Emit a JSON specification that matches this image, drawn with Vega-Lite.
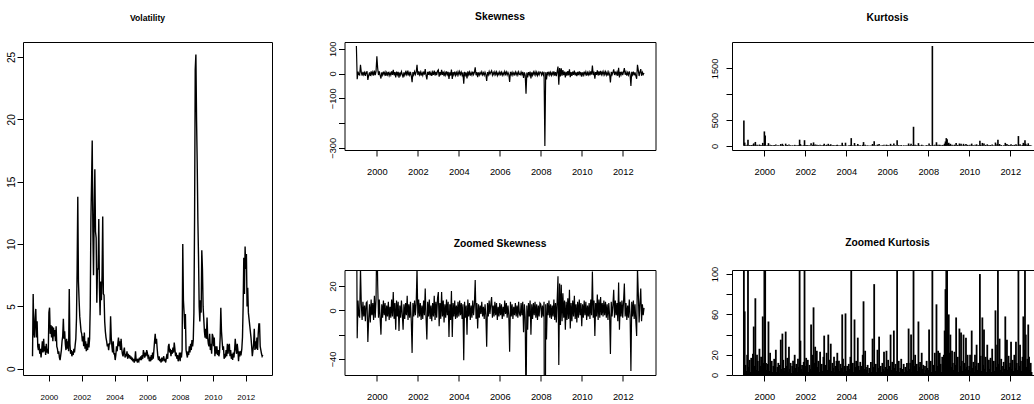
{
"$schema": "https://vega.github.io/schema/vega-lite/v6.json",
"background": "white",
"padding": {"left": 2, "top": 11, "right": 0, "bottom": 0},
"spacing": 40.5,
"config": {
 "view": {"stroke": "black", "strokeWidth": 1},
 "axis": {"grid": false, "domain": false, "tickColor": "black", "tickSize": 6, "labelColor": "black", "labelFont": "Liberation Sans", "labelFontSize": 9.3},
 "axisX": {"labelBaseline": "middle", "labelPadding": 15, "labelAngle": 0, "labelAlign": "center"},
 "axisY": {"labelAngle": 270, "labelAlign": "center", "labelBaseline": "middle", "labelPadding": 6, "minExtent": 30},
 "title": {"font": "Liberation Sans", "fontWeight": "bold", "fontSize": 10.3, "color": "black", "anchor": "middle", "offset": 19}
},
"datasets": {"d": [
{"t":1999,"v":1,"s":111,"k":490},{"t":1999.04,"v":6,"s":-23,"k":63},{"t":1999.08,"v":3,"s":8,"k":10},{"t":1999.12,"v":2.5,"s":-4,"k":4},{"t":1999.16,"v":4,"s":-6,"k":20},{"t":1999.2,"v":4.8,"s":35,"k":120},{"t":1999.24,"v":2.5,"s":5,"k":8},{"t":1999.28,"v":3.8,"s":-8,"k":15},{"t":1999.32,"v":1.8,"s":7,"k":3},{"t":1999.36,"v":1.5,"s":-5,"k":17},{"t":1999.4,"v":2,"s":4,"k":6},{"t":1999.44,"v":1.2,"s":-9,"k":21},{"t":1999.48,"v":1.6,"s":6,"k":48},{"t":1999.52,"v":0.9,"s":7,"k":9},{"t":1999.56,"v":1.5,"s":-26,"k":76},{"t":1999.6,"v":2.2,"s":-7,"k":5},{"t":1999.64,"v":1.3,"s":5,"k":20},{"t":1999.68,"v":2.4,"s":-10,"k":14},{"t":1999.72,"v":1.4,"s":9,"k":4},{"t":1999.76,"v":1.8,"s":-4,"k":26},{"t":1999.8,"v":1.1,"s":6,"k":9},{"t":1999.84,"v":2,"s":-8,"k":18},{"t":1999.88,"v":1.3,"s":12,"k":5},{"t":1999.92,"v":1.6,"s":-6,"k":58},{"t":1999.96,"v":1.2,"s":9,"k":12},
{"t":2000,"v":4.5,"s":70,"k":280},{"t":2000.04,"v":4.9,"s":21,"k":200},{"t":2000.08,"v":2.8,"s":-6,"k":12},{"t":2000.12,"v":3.5,"s":9,"k":5},{"t":2000.16,"v":2.5,"s":-7,"k":11},{"t":2000.2,"v":3.4,"s":-20,"k":53},{"t":2000.24,"v":2.2,"s":5,"k":4},{"t":2000.28,"v":3.3,"s":-6,"k":22},{"t":2000.32,"v":2.6,"s":8,"k":7},{"t":2000.36,"v":3.1,"s":-4,"k":14},{"t":2000.4,"v":2.2,"s":6,"k":3},{"t":2000.44,"v":3.4,"s":-9,"k":9},{"t":2000.48,"v":1.8,"s":4,"k":16},{"t":2000.52,"v":1.6,"s":-5,"k":5},{"t":2000.56,"v":1.2,"s":7,"k":25},{"t":2000.6,"v":1.4,"s":-8,"k":3},{"t":2000.64,"v":0.9,"s":3,"k":8},{"t":2000.68,"v":0.7,"s":-6,"k":12},{"t":2000.72,"v":1.1,"s":9,"k":2},{"t":2000.76,"v":1.5,"s":-5,"k":10},{"t":2000.8,"v":2.2,"s":15,"k":35},{"t":2000.84,"v":2.6,"s":-7,"k":6},{"t":2000.88,"v":4,"s":6,"k":41},{"t":2000.92,"v":2.4,"s":-16,"k":15},{"t":2000.96,"v":3,"s":8,"k":7},
{"t":2001,"v":2,"s":-5,"k":4},{"t":2001.04,"v":1.5,"s":7,"k":43},{"t":2001.08,"v":2.4,"s":-17,"k":9},{"t":2001.12,"v":1.6,"s":4,"k":17},{"t":2001.16,"v":2.2,"s":-6,"k":3},{"t":2001.2,"v":1.4,"s":8,"k":28},{"t":2001.24,"v":6.4,"s":-3,"k":6},{"t":2001.28,"v":2,"s":-16,"k":12},{"t":2001.32,"v":1.2,"s":5,"k":2},{"t":2001.36,"v":1.5,"s":-7,"k":9},{"t":2001.4,"v":1,"s":6,"k":14},{"t":2001.44,"v":1.4,"s":-4,"k":4},{"t":2001.48,"v":1.1,"s":12,"k":20},{"t":2001.52,"v":1.6,"s":-8,"k":7},{"t":2001.56,"v":1.3,"s":5,"k":11},{"t":2001.6,"v":1.9,"s":-6,"k":3},{"t":2001.64,"v":2.4,"s":7,"k":16},{"t":2001.68,"v":4,"s":-9,"k":8},{"t":2001.72,"v":8,"s":-35,"k":120},{"t":2001.76,"v":13.8,"s":6,"k":34},{"t":2001.8,"v":7,"s":-5,"k":6},{"t":2001.84,"v":5.5,"s":8,"k":10},{"t":2001.88,"v":4.2,"s":-4,"k":3},{"t":2001.92,"v":3.6,"s":6,"k":13},{"t":2001.96,"v":3,"s":35,"k":110},
{"t":2002,"v":2.8,"s":-6,"k":9},{"t":2002.04,"v":2.2,"s":9,"k":17},{"t":2002.08,"v":2.6,"s":-5,"k":5},{"t":2002.12,"v":1.8,"s":6,"k":15},{"t":2002.16,"v":2.9,"s":-8,"k":3},{"t":2002.2,"v":1.6,"s":4,"k":10},{"t":2002.24,"v":2.2,"s":-7,"k":6},{"t":2002.28,"v":1.4,"s":8,"k":50},{"t":2002.32,"v":2,"s":-4,"k":4},{"t":2002.36,"v":1.5,"s":18,"k":20},{"t":2002.4,"v":2.5,"s":-6,"k":67},{"t":2002.44,"v":1.7,"s":-24,"k":12},{"t":2002.48,"v":2.4,"s":7,"k":28},{"t":2002.52,"v":5,"s":-5,"k":5},{"t":2002.56,"v":12,"s":9,"k":24},{"t":2002.6,"v":15,"s":-7,"k":8},{"t":2002.64,"v":18.3,"s":4,"k":14},{"t":2002.68,"v":11,"s":-9,"k":3},{"t":2002.72,"v":7.5,"s":6,"k":23},{"t":2002.76,"v":12.5,"s":-5,"k":7},{"t":2002.8,"v":16,"s":12,"k":11},{"t":2002.84,"v":11,"s":-8,"k":4},{"t":2002.88,"v":10.5,"s":7,"k":18},{"t":2002.92,"v":5.3,"s":-6,"k":39},{"t":2002.96,"v":8,"s":10,"k":6},
{"t":2003,"v":8,"s":15,"k":10},{"t":2003.04,"v":12,"s":-13,"k":22},{"t":2003.08,"v":6.5,"s":6,"k":5},{"t":2003.12,"v":4.3,"s":-7,"k":40},{"t":2003.16,"v":7,"s":15,"k":8},{"t":2003.2,"v":5.5,"s":-5,"k":15},{"t":2003.24,"v":7.5,"s":8,"k":31},{"t":2003.28,"v":12.2,"s":-10,"k":4},{"t":2003.32,"v":6,"s":5,"k":12},{"t":2003.36,"v":5.9,"s":-6,"k":7},{"t":2003.4,"v":3.8,"s":9,"k":18},{"t":2003.44,"v":3,"s":-4,"k":3},{"t":2003.48,"v":2.5,"s":7,"k":9},{"t":2003.52,"v":2.2,"s":-22,"k":14},{"t":2003.56,"v":1.8,"s":5,"k":22},{"t":2003.6,"v":2,"s":-8,"k":6},{"t":2003.64,"v":1.5,"s":16,"k":14},{"t":2003.68,"v":2,"s":-22,"k":4},{"t":2003.72,"v":2,"s":6,"k":11},{"t":2003.76,"v":4.2,"s":-5,"k":7},{"t":2003.8,"v":2.5,"s":8,"k":60},{"t":2003.84,"v":1.8,"s":-7,"k":16},{"t":2003.88,"v":1.3,"s":4,"k":3},{"t":2003.92,"v":2.2,"s":-6,"k":9},{"t":2003.96,"v":1.2,"s":7,"k":61},
{"t":2004,"v":1.2,"s":-5,"k":4},{"t":2004.04,"v":0.7,"s":8,"k":9},{"t":2004.08,"v":1.1,"s":-4,"k":3},{"t":2004.12,"v":1.8,"s":6,"k":11},{"t":2004.16,"v":1.4,"s":-7,"k":6},{"t":2004.2,"v":2,"s":5,"k":18},{"t":2004.24,"v":2.5,"s":-41,"k":150},{"t":2004.28,"v":1.8,"s":7,"k":7},{"t":2004.32,"v":2.2,"s":-6,"k":12},{"t":2004.36,"v":1.5,"s":4,"k":3},{"t":2004.4,"v":2.4,"s":-20,"k":55},{"t":2004.44,"v":1.6,"s":9,"k":8},{"t":2004.48,"v":1.2,"s":-5,"k":14},{"t":2004.52,"v":1,"s":6,"k":2},{"t":2004.56,"v":1.4,"s":-8,"k":37},{"t":2004.6,"v":1.7,"s":4,"k":9},{"t":2004.64,"v":0.9,"s":-6,"k":5},{"t":2004.68,"v":1.2,"s":8,"k":13},{"t":2004.72,"v":1,"s":-4,"k":4},{"t":2004.76,"v":1.4,"s":5,"k":9},{"t":2004.8,"v":0.8,"s":25,"k":20},{"t":2004.84,"v":1.2,"s":-7,"k":73},{"t":2004.88,"v":0.9,"s":6,"k":6},{"t":2004.92,"v":1.1,"s":-15,"k":24},{"t":2004.96,"v":0.8,"s":5,"k":8},
{"t":2005,"v":1,"s":-6,"k":5},{"t":2005.04,"v":0.7,"s":4,"k":10},{"t":2005.08,"v":0.9,"s":-3,"k":2},{"t":2005.12,"v":0.6,"s":7,"k":7},{"t":2005.16,"v":0.8,"s":-5,"k":4},{"t":2005.2,"v":0.5,"s":3,"k":13},{"t":2005.24,"v":0.7,"s":-7,"k":3},{"t":2005.28,"v":1.4,"s":5,"k":36},{"t":2005.32,"v":0.6,"s":-4,"k":8},{"t":2005.36,"v":0.8,"s":-30,"k":90},{"t":2005.4,"v":0.5,"s":6,"k":5},{"t":2005.44,"v":0.7,"s":-5,"k":11},{"t":2005.48,"v":0.6,"s":8,"k":3},{"t":2005.52,"v":0.9,"s":-3,"k":25},{"t":2005.56,"v":0.7,"s":5,"k":7},{"t":2005.6,"v":1,"s":11,"k":38},{"t":2005.64,"v":0.7,"s":-6,"k":4},{"t":2005.68,"v":1.1,"s":4,"k":9},{"t":2005.72,"v":0.8,"s":-5,"k":3},{"t":2005.76,"v":1.5,"s":7,"k":12},{"t":2005.8,"v":1.2,"s":-4,"k":6},{"t":2005.84,"v":0.9,"s":6,"k":23},{"t":2005.88,"v":1.3,"s":-8,"k":4},{"t":2005.92,"v":1,"s":3,"k":8},{"t":2005.96,"v":1.5,"s":-5,"k":24},
{"t":2006,"v":1.3,"s":6,"k":6},{"t":2006.04,"v":0.9,"s":-4,"k":15},{"t":2006.08,"v":1,"s":5,"k":3},{"t":2006.12,"v":0.6,"s":-7,"k":9},{"t":2006.16,"v":0.8,"s":3,"k":40},{"t":2006.2,"v":0.6,"s":-5,"k":5},{"t":2006.24,"v":1.1,"s":8,"k":13},{"t":2006.28,"v":0.7,"s":-3,"k":2},{"t":2006.32,"v":1.3,"s":6,"k":44},{"t":2006.36,"v":0.8,"s":-6,"k":7},{"t":2006.4,"v":1.5,"s":4,"k":11},{"t":2006.44,"v":2.2,"s":-4,"k":4},{"t":2006.48,"v":2.8,"s":-34,"k":110},{"t":2006.52,"v":2,"s":7,"k":9},{"t":2006.56,"v":2.4,"s":-5,"k":14},{"t":2006.6,"v":1.6,"s":5,"k":3},{"t":2006.64,"v":1,"s":-7,"k":7},{"t":2006.68,"v":0.7,"s":3,"k":16},{"t":2006.72,"v":1,"s":-4,"k":2},{"t":2006.76,"v":0.6,"s":6,"k":6},{"t":2006.8,"v":0.8,"s":-5,"k":11},{"t":2006.84,"v":0.5,"s":4,"k":3},{"t":2006.88,"v":0.9,"s":-6,"k":8},{"t":2006.92,"v":0.6,"s":7,"k":5},{"t":2006.96,"v":0.8,"s":-3,"k":12},
{"t":2007,"v":1,"s":-5,"k":4},{"t":2007.04,"v":0.6,"s":6,"k":46},{"t":2007.08,"v":0.8,"s":-4,"k":6},{"t":2007.12,"v":0.5,"s":7,"k":12},{"t":2007.16,"v":0.9,"s":-18,"k":40},{"t":2007.2,"v":1.2,"s":5,"k":3},{"t":2007.24,"v":0.8,"s":-6,"k":15},{"t":2007.28,"v":1.8,"s":-82,"k":370},{"t":2007.32,"v":2,"s":4,"k":9},{"t":2007.36,"v":1.3,"s":-16,"k":20},{"t":2007.4,"v":1.6,"s":6,"k":5},{"t":2007.44,"v":1,"s":-5,"k":11},{"t":2007.48,"v":1.5,"s":8,"k":4},{"t":2007.52,"v":1.2,"s":-20,"k":53},{"t":2007.56,"v":1.7,"s":5,"k":8},{"t":2007.6,"v":1.3,"s":-7,"k":13},{"t":2007.64,"v":2.1,"s":6,"k":3},{"t":2007.68,"v":1.6,"s":-4,"k":22},{"t":2007.72,"v":1,"s":7,"k":6},{"t":2007.76,"v":1.3,"s":-6,"k":10},{"t":2007.8,"v":0.8,"s":5,"k":2},{"t":2007.84,"v":1.1,"s":-8,"k":9},{"t":2007.88,"v":0.6,"s":4,"k":5},{"t":2007.92,"v":0.9,"s":-5,"k":14},{"t":2007.96,"v":1.3,"s":6,"k":7},
{"t":2008,"v":0.6,"s":5,"k":5},{"t":2008.04,"v":1.3,"s":-6,"k":45},{"t":2008.08,"v":0.9,"s":4,"k":8},{"t":2008.12,"v":1.5,"s":-5,"k":14},{"t":2008.16,"v":10,"s":7,"k":3},{"t":2008.2,"v":5.5,"s":-293,"k":1935},{"t":2008.24,"v":4.5,"s":5,"k":10},{"t":2008.28,"v":3.2,"s":-24,"k":6},{"t":2008.32,"v":4.4,"s":6,"k":22},{"t":2008.36,"v":1.5,"s":-4,"k":4},{"t":2008.4,"v":1.2,"s":8,"k":70},{"t":2008.44,"v":0.9,"s":-6,"k":9},{"t":2008.48,"v":1.4,"s":5,"k":24},{"t":2008.52,"v":1.1,"s":-7,"k":5},{"t":2008.56,"v":1.8,"s":4,"k":22},{"t":2008.6,"v":1.3,"s":-5,"k":11},{"t":2008.64,"v":2,"s":9,"k":3},{"t":2008.68,"v":1.5,"s":-8,"k":18},{"t":2008.72,"v":2.3,"s":6,"k":7},{"t":2008.76,"v":1.8,"s":-10,"k":20},{"t":2008.8,"v":2.3,"s":8,"k":44},{"t":2008.84,"v":4.5,"s":28,"k":85},{"t":2008.88,"v":12,"s":-45,"k":150},{"t":2008.92,"v":24,"s":22,"k":130},{"t":2008.96,"v":25.2,"s":-12,"k":35},
{"t":2009,"v":20,"s":21,"k":60},{"t":2009.04,"v":16.5,"s":-9,"k":22},{"t":2009.08,"v":12,"s":14,"k":40},{"t":2009.12,"v":9,"s":-6,"k":8},{"t":2009.16,"v":5,"s":8,"k":24},{"t":2009.2,"v":3.8,"s":-16,"k":12},{"t":2009.24,"v":5.5,"s":7,"k":5},{"t":2009.28,"v":4.5,"s":-8,"k":23},{"t":2009.32,"v":9.5,"s":10,"k":10},{"t":2009.36,"v":8,"s":-7,"k":57},{"t":2009.4,"v":5,"s":17,"k":6},{"t":2009.44,"v":4,"s":-15,"k":18},{"t":2009.48,"v":3,"s":6,"k":3},{"t":2009.52,"v":2.5,"s":-9,"k":46},{"t":2009.56,"v":3.2,"s":8,"k":9},{"t":2009.6,"v":2.4,"s":-5,"k":42},{"t":2009.64,"v":4.1,"s":12,"k":14},{"t":2009.68,"v":2.5,"s":-7,"k":4},{"t":2009.72,"v":2,"s":5,"k":40},{"t":2009.76,"v":1.8,"s":-10,"k":12},{"t":2009.8,"v":2.8,"s":7,"k":6},{"t":2009.84,"v":1.5,"s":-6,"k":37},{"t":2009.88,"v":2,"s":9,"k":8},{"t":2009.92,"v":1.2,"s":-4,"k":20},{"t":2009.96,"v":2.8,"s":6,"k":5},
{"t":2010,"v":2.6,"s":-13,"k":9},{"t":2010.04,"v":1.8,"s":5,"k":20},{"t":2010.08,"v":2.5,"s":-6,"k":4},{"t":2010.12,"v":1,"s":8,"k":44},{"t":2010.16,"v":1.8,"s":-4,"k":7},{"t":2010.2,"v":1.2,"s":7,"k":13},{"t":2010.24,"v":1.8,"s":-8,"k":3},{"t":2010.28,"v":1.1,"s":4,"k":20},{"t":2010.32,"v":1.5,"s":-5,"k":9},{"t":2010.36,"v":1,"s":6,"k":30},{"t":2010.4,"v":1.3,"s":-7,"k":5},{"t":2010.44,"v":2.5,"s":9,"k":12},{"t":2010.48,"v":4.9,"s":-4,"k":12},{"t":2010.52,"v":3,"s":32,"k":100},{"t":2010.56,"v":2.2,"s":-6,"k":19},{"t":2010.6,"v":1.5,"s":8,"k":4},{"t":2010.64,"v":1.8,"s":-21,"k":57},{"t":2010.68,"v":0.8,"s":6,"k":10},{"t":2010.72,"v":1.2,"s":-5,"k":45},{"t":2010.76,"v":0.9,"s":13,"k":6},{"t":2010.8,"v":1.5,"s":-8,"k":18},{"t":2010.84,"v":1,"s":9,"k":3},{"t":2010.88,"v":2,"s":-6,"k":30},{"t":2010.92,"v":1.2,"s":11,"k":9},{"t":2010.96,"v":1.8,"s":-4,"k":15},
{"t":2011,"v":2,"s":6,"k":6},{"t":2011.04,"v":1,"s":-5,"k":17},{"t":2011.08,"v":1.5,"s":8,"k":3},{"t":2011.12,"v":0.8,"s":-4,"k":26},{"t":2011.16,"v":1.2,"s":7,"k":9},{"t":2011.2,"v":0.7,"s":-6,"k":14},{"t":2011.24,"v":1.3,"s":5,"k":4},{"t":2011.28,"v":0.9,"s":-8,"k":64},{"t":2011.32,"v":1.5,"s":6,"k":8},{"t":2011.36,"v":2.4,"s":-4,"k":30},{"t":2011.4,"v":1.6,"s":-36,"k":120},{"t":2011.44,"v":1.2,"s":7,"k":11},{"t":2011.48,"v":2,"s":-5,"k":36},{"t":2011.52,"v":1.5,"s":4,"k":5},{"t":2011.56,"v":0.6,"s":17,"k":16},{"t":2011.6,"v":1.4,"s":-6,"k":9},{"t":2011.64,"v":1,"s":8,"k":3},{"t":2011.68,"v":1.3,"s":-4,"k":13},{"t":2011.72,"v":1.2,"s":6,"k":6},{"t":2011.76,"v":1.6,"s":-9,"k":58},{"t":2011.8,"v":2.5,"s":23,"k":10},{"t":2011.84,"v":5,"s":-16,"k":35},{"t":2011.88,"v":8.9,"s":7,"k":5},{"t":2011.92,"v":6,"s":-5,"k":19},{"t":2011.96,"v":9.8,"s":8,"k":8},
{"t":2012,"v":8,"s":-6,"k":12},{"t":2012.04,"v":9.2,"s":7,"k":33},{"t":2012.08,"v":5,"s":22,"k":6},{"t":2012.12,"v":6.5,"s":-5,"k":15},{"t":2012.16,"v":4.5,"s":6,"k":4},{"t":2012.2,"v":4,"s":-8,"k":20},{"t":2012.24,"v":3.5,"s":4,"k":7},{"t":2012.28,"v":3,"s":-6,"k":33},{"t":2012.32,"v":2.5,"s":9,"k":12},{"t":2012.36,"v":1.8,"s":-4,"k":5},{"t":2012.4,"v":1,"s":-50,"k":190},{"t":2012.44,"v":1.5,"s":7,"k":9},{"t":2012.48,"v":2,"s":-5,"k":30},{"t":2012.52,"v":3.2,"s":8,"k":14},{"t":2012.56,"v":1.5,"s":-7,"k":4},{"t":2012.6,"v":2.2,"s":5,"k":18},{"t":2012.64,"v":1.6,"s":-9,"k":58},{"t":2012.68,"v":2.5,"s":-21,"k":25},{"t":2012.72,"v":1.5,"s":35,"k":110},{"t":2012.76,"v":2.8,"s":14,"k":40},{"t":2012.8,"v":3.6,"s":-10,"k":8},{"t":2012.84,"v":3.6,"s":6,"k":16},{"t":2012.88,"v":1.8,"s":18,"k":50},{"t":2012.92,"v":1.5,"s":-9,"k":18},{"t":2012.96,"v":1.2,"s":5,"k":5},
{"t":2013,"v":1,"s":-4,"k":12},{"t":2013.04,"v":1.1,"s":2,"k":3}
]},
"hconcat": [
  {"width": 249, "height": 333, "data": {"name": "d"},
   "title": {"text": "Volatility", "fontSize": 8.6},
   "mark": {"type": "line", "color": "black", "strokeWidth": 1.4},
   "encoding": {
    "x": {"field": "t", "type": "quantitative", "scale": {"domain": [1998.42, 2013.6], "nice": false, "zero": false}, "axis": {"title": null, "values": [2000,2002,2004,2006,2008,2010,2012], "format": "d", "labelFontSize": 8, "labelPadding": 16}},
    "y": {"field": "v", "type": "quantitative", "scale": {"domain": [-0.5, 26.2], "nice": false, "zero": false}, "axis": {"title": null, "values": [0,5,10,15,20,25], "labelFontSize": 10, "minExtent": 20}}
   }},
  {"bounds": "flush", "spacing": 120, "vconcat": [
   {"width": 311, "height": 108, "data": {"name": "d"},
    "title": {"text": "Skewness"},
    "mark": {"type": "line", "color": "black", "strokeWidth": 1.2, "clip": true},
    "encoding": {
     "x": {"field": "t", "type": "quantitative", "scale": {"domain": [1998.42, 2013.6], "nice": false, "zero": false}, "axis": {"title": null, "values": [2000,2002,2004,2006,2008,2010,2012], "format": "d"}},
     "y": {"field": "s", "type": "quantitative", "scale": {"domain": [-309, 127.5], "nice": false, "zero": false}, "axis": {"title": null, "values": [-300,-200,-100,0,100], "labelExpr": "datum.value == -200 ? '' : datum.label"}}
    }},
   {"width": 311, "height": 105, "data": {"name": "d"},
    "title": {"text": "Zoomed Skewness", "offset": 20.5},
    "mark": {"type": "line", "color": "black", "strokeWidth": 1.2, "clip": true},
    "encoding": {
     "x": {"field": "t", "type": "quantitative", "scale": {"domain": [1998.42, 2013.6], "nice": false, "zero": false}, "axis": {"title": null, "values": [2000,2002,2004,2006,2008,2010,2012], "format": "d"}},
     "y": {"field": "s", "type": "quantitative", "scale": {"domain": [-53.2, 33.2], "nice": false, "zero": false}, "axis": {"title": null, "values": [-40,-20,0,20], "labelExpr": "datum.value == -20 ? '' : datum.label"}}
    }}
  ]},
  {"bounds": "flush", "spacing": 120, "vconcat": [
   {"width": 311, "height": 108, "data": {"name": "d"},
    "title": {"text": "Kurtosis"},
    "mark": {"type": "rule", "color": "black", "strokeWidth": 1.6, "clip": true},
    "encoding": {
     "x": {"field": "t", "type": "quantitative", "scale": {"domain": [1998.42, 2013.6], "nice": false, "zero": false}, "axis": {"title": null, "values": [2000,2002,2004,2006,2008,2010,2012], "format": "d"}},
     "y": {"field": "k", "type": "quantitative", "scale": {"domain": [-80, 2012], "nice": false, "zero": false}, "axis": {"title": null, "values": [0,500,1000,1500], "format": "d", "minExtent": 34, "labelPadding": 12, "labelExpr": "datum.value == 1000 ? '' : datum.label"}},
     "y2": {"datum": 0}
    }},
   {"width": 311, "height": 105, "data": {"name": "d"},
    "title": {"text": "Zoomed Kurtosis", "offset": 17.5},
    "mark": {"type": "rule", "color": "black", "strokeWidth": 1.8, "clip": true},
    "encoding": {
     "x": {"field": "t", "type": "quantitative", "scale": {"domain": [1998.42, 2013.6], "nice": false, "zero": false}, "axis": {"title": null, "values": [2000,2002,2004,2006,2008,2010,2012], "format": "d"}},
     "y": {"field": "k", "type": "quantitative", "scale": {"domain": [0, 104], "nice": false, "zero": false}, "axis": {"title": null, "values": [0,20,40,60,80,100], "minExtent": 34, "labelPadding": 12, "labelExpr": "datum.value == 40 || datum.value == 80 ? '' : datum.label"}},
     "y2": {"datum": 0}
    }}
  ]}
]
}
